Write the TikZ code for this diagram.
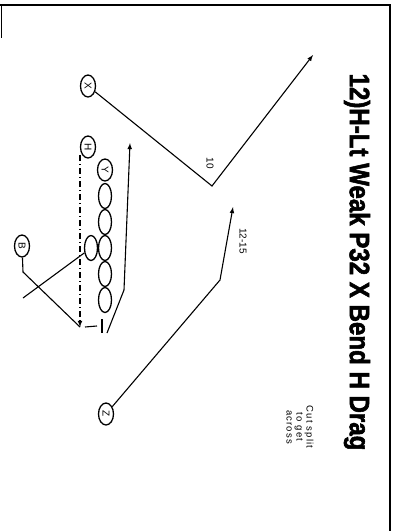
\documentclass[tikz,border=0pt]{standalone}
\usepackage{fontspec}
\setmainfont{Liberation Sans}
\newfontfamily\notizfont[LetterSpace=12]{Liberation Sans}
\newfontfamily\titelfont[FakeBold=2.2]{Liberation Sans Bold}
\usetikzlibrary{shapes.geometric}
\begin{document}
\begin{tikzpicture}[x=1pt, y=-1pt, >=latex, line width=1.1pt,
	spieler/.style={draw, ellipse, line width=1.3pt, inner sep=0pt, minimum width=22pt, minimum height=15pt, rotate=-90, font=\fontsize{10}{10}\selectfont},
	linie/.style={draw, ellipse, line width=1.3pt, inner sep=0pt, minimum width=25pt, minimum height=13pt, rotate=-90},
	notiz/.style={rotate=-90, inner sep=0pt, font=\fontsize{10}{10}\selectfont}]
				%Rahmen
				\useasboundingbox (0,0) rectangle (399,531);
				\draw[line width=1.6pt] (0,5) -- (390,5) -- (390,531);
				\draw[line width=0.8pt] (1.5,5) -- (1.5,38);
				% Titel
				\node[rotate=-90, inner sep=0pt, font=\fontsize{28}{28}\titelfont] (titel) at (357,262) {\scalebox{0.86}[1]{12)H-Lt Weak P32 X Bend H Drag}};
				% Spieler zeichnen
				\node[spieler] (X) at (88,86) {X};
				\node[spieler] (H) at (88,147) {H};
				\node[spieler] (Y) at (105,170) {Y};
				\foreach \n/\yy in {1/196,2/222,3/248,4/274,5/300} \node[linie] (o\n) at (105,\yy) {};
				\node[linie] (qb) at (91,248) {};
				\node[spieler] (B) at (22,246) {B};
				\node[spieler] (Z) at (106,414) {Z};
				% Wege
				\coordinate (xknick) at (212,186);
				\coordinate (xende) at (313,55);
				\draw[->] (X) -- (xknick) -- (xende);
				\node[notiz] (zehn) at (210,163) {10};
				\coordinate (zknick) at (220,280);
				\coordinate (zende) at (233,207);
				\draw[->] (Z) -- (zknick) -- (zende);
				\node[notiz] (zwoelf) at (243,241) {12-15};
				% H Motion und Drag
				\coordinate (hende) at (80,327);
				\coordinate (hstopp) at (102,326);
				\draw[->, dash pattern=on 6pt off 3pt on 1pt off 3pt] (H.south east -| hende) -- (hende);
				\draw ([xshift=5pt]hende) -- ([xshift=-5pt]hstopp);
				\draw (hstopp) ++(0,-7) -- ++(0,14);
				\coordinate (dstart) at (107,333);
				\coordinate (dknick) at (124,290);
				\coordinate (dende) at (130,143);
				\draw[->] (dstart) -- (dknick) -- (dende);
				% Backfield
				\coordinate (bknick) at (23,272);
				\draw (B) -- (bknick) -- (hende);
				\coordinate (qbende) at (23,298);
				\draw (qb) -- (qbende);
				%Beschriftung
				\node[notiz, align=center, font=\fontsize{9.5}{10}\notizfont] (hinweis) at (300,427) {Cut split\\to get\\across};
		\end{tikzpicture}
\end{document}
